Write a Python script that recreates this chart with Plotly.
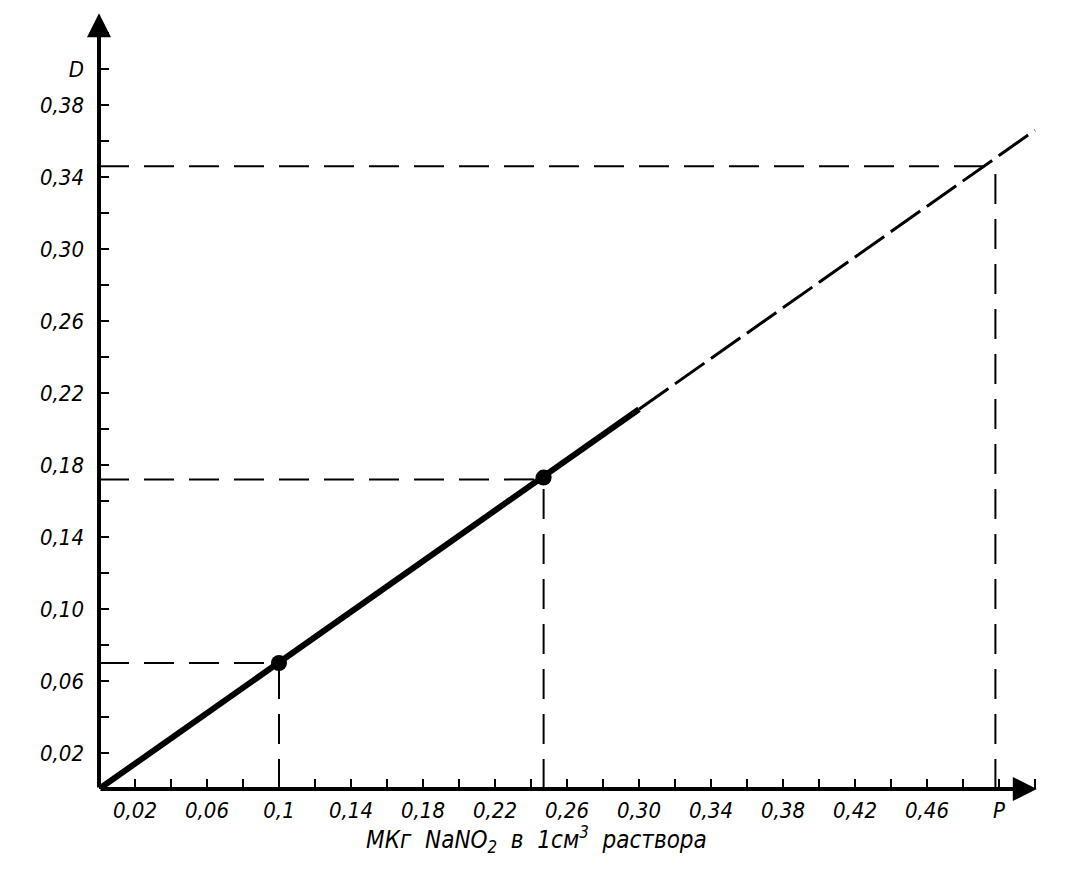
import plotly.graph_objects as go

# ---- data ----
line_x = [0.0, 0.1, 0.247, 0.30]
line_y = [0.0, 0.07, 0.173, 0.211]
line_ext_x = [0.30, 0.52]
line_ext_y = [0.211, 0.366]

point_x = [0.1, 0.247]
point_y = [0.07, 0.173]

ref_x = [0.1, 0.247, 0.498]      # dashed reading lines
ref_y = [0.07, 0.172, 0.346]

x_axis_end = 0.521
y_axis_end = 0.431

x_tickvals = [0.02, 0.06, 0.1, 0.14, 0.18, 0.22, 0.26, 0.3, 0.34, 0.38, 0.42, 0.46, 0.5]
x_ticktext = ["0,02", "0,06", "0,1", "0,14", "0,18", "0,22", "0,26", "0,30",
              "0,34", "0,38", "0,42", "0,46", "P"]
y_tickvals = [0.02, 0.06, 0.1, 0.14, 0.18, 0.22, 0.26, 0.3, 0.34, 0.38, 0.4]
y_ticktext = ["0,02", "0,06", "0,10", "0,14", "0,18", "0,22", "0,26", "0,30",
              "0,34", "0,38", "D"]
x_title = "МКг&nbsp; NaNO<sub>2</sub>&nbsp; в&nbsp; 1см<sup>3</sup>&nbsp; раствора"

FONT = "DejaVu Sans Condensed, DejaVu Sans, sans-serif"

fig = go.Figure()

# dashed reference lines
for rx, ry in zip(ref_x, ref_y):
    fig.add_trace(go.Scatter(x=[0, rx], y=[ry, ry], mode="lines",
                             line=dict(color="black", width=2, dash="30px,15px"),
                             hoverinfo="skip", showlegend=False))
    fig.add_trace(go.Scatter(x=[rx, rx], y=[0, ry], mode="lines",
                             line=dict(color="black", width=2, dash="30px,15px"),
                             hoverinfo="skip", showlegend=False))

# main calibration line
fig.add_trace(go.Scatter(x=line_x, y=line_y, mode="lines",
                         line=dict(color="black", width=6),
                         showlegend=False))
fig.add_trace(go.Scatter(x=line_ext_x, y=line_ext_y, mode="lines",
                         line=dict(color="black", width=3, dash="36px,8px"),
                         showlegend=False))
fig.add_trace(go.Scatter(x=point_x, y=point_y, mode="markers",
                         marker=dict(color="black", size=16),
                         showlegend=False))

# axes with arrowheads
fig.add_annotation(x=x_axis_end, y=0, ax=0, ay=0, xref="x", yref="y", axref="x", ayref="y",
                   showarrow=True, arrowhead=2, arrowsize=1.2, arrowwidth=4,
                   arrowcolor="black", text="")
fig.add_annotation(x=0, y=y_axis_end, ax=0, ay=0, xref="x", yref="y", axref="x", ayref="y",
                   showarrow=True, arrowhead=2, arrowsize=1.2, arrowwidth=4,
                   arrowcolor="black", text="")

fig.add_annotation(x=0.243, y=-0.0653, xref="x", yref="paper", showarrow=False,
                   text=x_title, font=dict(family=FONT, size=24, color="black", style="italic"),
                   xanchor="center", yanchor="middle")

fig.update_xaxes(range=[0, 0.525], tickmode="array", tickvals=x_tickvals, ticktext=x_ticktext,
                 ticks="inside", ticklen=10, tickwidth=2, tickcolor="black",
                 minor=dict(tickmode="linear", tick0=0, dtick=0.02, ticks="inside",
                            ticklen=10, tickwidth=2, tickcolor="black", showgrid=False),
                 showgrid=False, zeroline=False, showline=False,
                 tickfont=dict(family=FONT, size=22, color="black", style="italic"),
                 ticklabelstandoff=6)
fig.update_yaxes(range=[0, 0.4339], tickmode="array", tickvals=y_tickvals, ticktext=y_ticktext,
                 ticks="inside", ticklen=10, tickwidth=2, tickcolor="black",
                 minor=dict(tickmode="linear", tick0=0, dtick=0.02, ticks="inside",
                            ticklen=10, tickwidth=2, tickcolor="black", showgrid=False),
                 showgrid=False, zeroline=False, showline=False,
                 tickfont=dict(family=FONT, size=22, color="black", style="italic"),
                 ticklabelstandoff=14)

fig.update_layout(width=1090, height=871,
                  margin=dict(l=91, r=54, t=0, b=90),
                  paper_bgcolor="white", plot_bgcolor="white")

fig.write_html("out.html")
